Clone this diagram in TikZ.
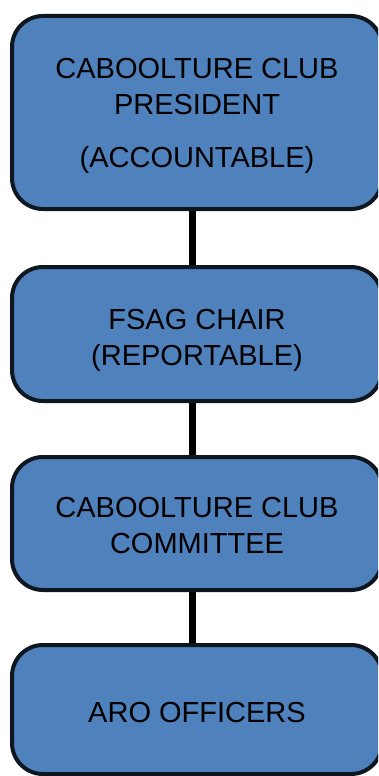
\documentclass[tikz,border=0pt]{standalone}
\usepackage{fontspec}
\setmainfont{Liberation Sans}
\usepackage{xcolor}
\usepackage{tikz}

\definecolor{boxblue}{RGB}{79,129,189}
\definecolor{boxline}{RGB}{14,22,32}

\begin{document}
\begin{tikzpicture}[x=1pt,y=-1pt,
    orgbox/.style={draw=boxline,fill=boxblue,line width=4pt,rounded corners=31pt,
      minimum width=370pt,align=center,font=\fontsize{29}{36}\selectfont},
    link/.style={line width=7pt}]
    \useasboundingbox (0,0) rectangle (378,776);
    \clip (0,0) rectangle (378,776);
    \node[orgbox,minimum height=193pt] (pres) at (197,112.5) {\rule{0pt}{27pt}CABOOLTURE CLUB\\PRESIDENT\\[17pt](ACCOUNTABLE)};
    \node[orgbox,minimum height=134pt] (chair) at (197,334) {\rule{0pt}{32pt}FSAG CHAIR\\(REPORTABLE)};
    \node[orgbox,minimum height=133pt] (cttee) at (197,523.5) {\rule{0pt}{25pt}CABOOLTURE CLUB\\COMMITTEE};
    \node[orgbox,minimum height=129pt] (aro) at (197,709.5) {\rule{0pt}{27pt}ARO OFFICERS};
    \draw[link] ([xshift=-5pt]pres.south) -- ([xshift=-5pt]chair.north);
    \draw[link] ([xshift=-5pt]chair.south) -- ([xshift=-5pt]cttee.north);
    \draw[link] ([xshift=-5pt]cttee.south) -- ([xshift=-5pt]aro.north);
\end{tikzpicture}
\end{document}
